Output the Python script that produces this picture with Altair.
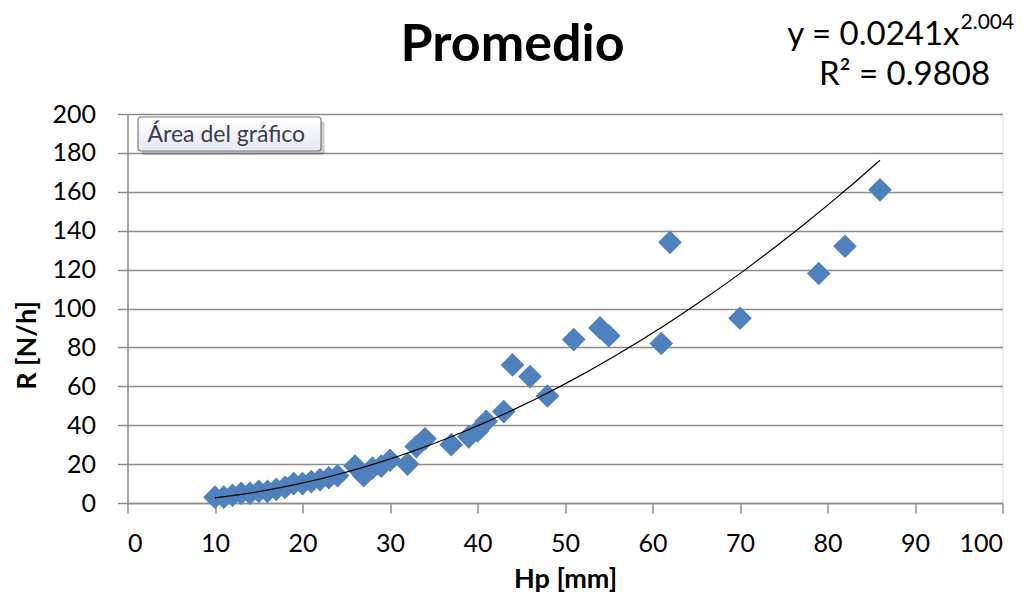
import altair as alt
import pandas as pd

# Data
hp_mm = [10, 11, 12, 13, 14, 15, 16, 17, 18, 19, 20, 21, 22, 23, 24,
         26, 27, 28, 29, 30, 32, 33, 34, 37, 39, 40, 41, 43, 44, 46, 48,
         51, 54, 55, 61, 62, 70, 79, 82, 86]
r_nh = [3, 3, 4, 5, 5, 6, 6, 7, 8, 10, 10, 11, 12, 13, 14,
        19, 14, 18, 19, 22, 20, 29, 33, 30, 34, 37, 42, 47, 71, 65, 55,
        84, 90, 86, 82, 134, 95, 118, 132, 161]

x_ticks = [0, 10, 20, 30, 40, 50, 60, 70, 80, 90, 100]
y_ticks = [0, 20, 40, 60, 80, 100, 120, 140, 160, 180, 200]

title_text = "Promedio"
eq_main = "y = 0.0241x"
eq_exp = "2.004"
r2_text = "R² = 0.9808"
tooltip_text = "Área del gráfico"

df = pd.DataFrame({"Hp": hp_mm, "R": r_nh})

FONT = "Lato"
W, H = 875, 389

xscale = alt.Scale(domain=[0, 100], nice=False)
yscale = alt.Scale(domain=[0, 200], nice=False)

xaxis = alt.Axis(values=x_ticks, title="Hp [mm]", grid=False, labelOverlap=False,
                 labelFont=FONT, labelFontSize=25, labelColor="#000000",
                 labelPadding=18, tickSize=10, tickColor="#8c8c8c", tickWidth=1.5,
                 domainColor="#8c8c8c", domainWidth=1.5,
                 titleFont=FONT, titleFontSize=27, titleFontWeight="bold",
                 titleColor="#000000", titleY=84, titleBaseline="alphabetic")
yaxis = alt.Axis(values=y_ticks, title="R [N/h]", grid=True, labelOverlap=False,
                 tickCount=11,
                 gridColor="#8c8c8c", gridWidth=1.5,
                 labelFont=FONT, labelFontSize=25, labelColor="#000000",
                 labelPadding=22, tickSize=10, tickColor="#8c8c8c", tickWidth=1.5,
                 domainColor="#8c8c8c", domainWidth=1.5,
                 titleFont=FONT, titleFontSize=27, titleFontWeight="bold",
                 titleColor="#000000", titleX=-86, titleY=231)

base = alt.Chart(df)

points = base.mark_point(shape="diamond", filled=True, size=560,
                         color="#4F81BD", opacity=1).encode(
    x=alt.X("Hp:Q", scale=xscale, axis=xaxis),
    y=alt.Y("R:Q", scale=yscale, axis=yaxis),
)

trend = base.transform_regression(
    "Hp", "R", method="pow", extent=[10, 86]
).mark_line(color="#000000", strokeWidth=1.2).encode(
    x=alt.X("Hp:Q", scale=xscale, axis=xaxis),
    y=alt.Y("R:Q", scale=yscale, axis=yaxis),
)

one = alt.Data(values=[{"a": 1}])

title = alt.Chart(one).mark_text(
    text=title_text, font=FONT, fontSize=52, fontWeight="bold",
    align="center", baseline="alphabetic", color="#000000"
).encode(x=alt.value(385), y=alt.value(-53))

eq1 = alt.Chart(one).mark_text(
    text=eq_main, font=FONT, fontSize=33, align="right",
    baseline="alphabetic", color="#000000"
).encode(x=alt.value(832), y=alt.value(-69))

eq2 = alt.Chart(one).mark_text(
    text=eq_exp, font=FONT, fontSize=21, align="left",
    baseline="alphabetic", color="#000000"
).encode(x=alt.value(833), y=alt.value(-85))

r2 = alt.Chart(one).mark_text(
    text=r2_text, font=FONT, fontSize=33, align="center",
    baseline="alphabetic", color="#000000"
).encode(x=alt.value(777), y=alt.value(-29))

shadow = alt.Chart(one).mark_rect(
    color="#000000", opacity=0.2, cornerRadius=3
).encode(x=alt.value(14), x2=alt.value(197), y=alt.value(7), y2=alt.value(41))

box = alt.Chart(one).mark_rect(
    fill={"gradient": "linear", "x1": 0, "y1": 0, "x2": 0, "y2": 1,
          "stops": [{"offset": 0, "color": "#ffffff"},
                    {"offset": 1, "color": "#e4e8f2"}]},
    stroke="#7a7a7a", strokeWidth=1.2, cornerRadius=3
).encode(x=alt.value(10.5), x2=alt.value(193.5), y=alt.value(3), y2=alt.value(37))

box_text = alt.Chart(one).mark_text(
    text=tooltip_text, font=FONT, fontSize=23, align="left",
    baseline="alphabetic", color="#3c3c50"
).encode(x=alt.value(20), y=alt.value(28))

chart = alt.layer(points, trend, title, eq1, eq2, r2, shadow, box, box_text).properties(
    width=W, height=H,
    autosize=alt.AutoSizeParams(type="none"),
    padding={"left": 119.5, "top": 106, "right": 15, "bottom": 92},
).configure_view(stroke=None).configure(background="#ffffff")

chart.save("out.html", embed_options={"renderer": "svg", "actions": False})
